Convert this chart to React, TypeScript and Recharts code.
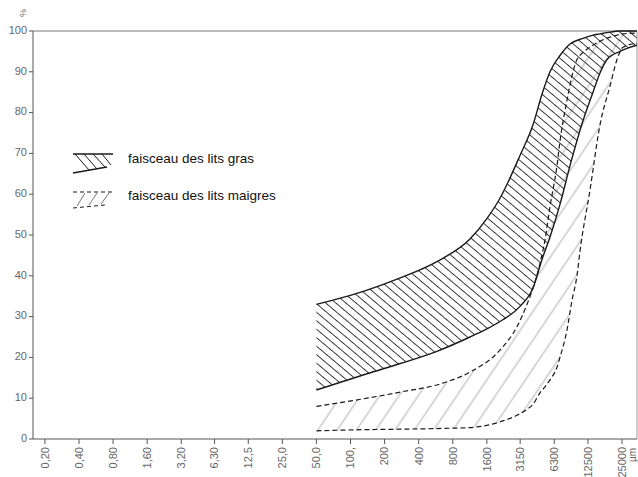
import {
  ComposedChart,
  Area,
  Line,
  XAxis,
  YAxis,
  ReferenceLine,
  Legend,
} from 'recharts'

// Sieve openings (µm) on the x axis, with the labels as printed
const sieveSizes = [0.2, 0.4, 0.8, 1.6, 3.2, 6.3, 12.5, 25, 50, 100, 200, 400, 800, 1600, 3150, 6300, 12500, 25000]
const sieveLabels = ['0,20', '0,40', '0,80', '1,60', '3,20', '6,30', '12,5', '25,0', '50,0', '100,', '200', '400', '800', '1600', '3150', '6300', '12500', '25000']
const percentTicks = [0, 10, 20, 30, 40, 50, 60, 70, 80, 90, 100]

// faisceau des lits gras: grain size (µm) with lower / upper envelope (% passing)
const grasSizes = [50, 140, 275, 580, 1135, 1600, 2090, 3140, 4090, 4910, 5780, 7080, 8680, 11300, 13850, 15970, 18420, 23980, 33900]
const grasLow = [12, 16, 18.5, 21.5, 25, 27, 28.8, 32.5, 37, 44, 49.5, 57.5, 67, 78, 85, 89.7, 93, 95, 96.5]
const grasHigh = [33, 36.5, 39.5, 43.5, 49, 54, 59, 69.5, 77, 84.5, 90, 94, 96.8, 98.2, 99, 99.3, 99.6, 100, 100]

// faisceau des lits maigres
const maigreSizes = [50, 140, 275, 655, 1135, 2090, 2950, 3620, 4090, 4710, 5220, 5780, 6660, 7080, 8160, 9040, 10000, 10630, 13030, 15970, 19580, 22580, 25500, 33900]
const maigreLow = [2, 2.3, 2.4, 2.6, 2.8, 4.2, 5.8, 7.3, 8.5, 11.3, 12.8, 14.5, 17.6, 20, 26.7, 34, 40, 46, 61, 77, 86.5, 93, 96, 97]
const maigreHigh = [8, 10, 11.5, 13.7, 16.4, 21.8, 27.5, 33, 37, 43, 48.8, 57, 67, 73, 83, 89, 93, 94, 96, 97.5, 98.5, 99, 99.3, 99.5]

const grasBand = grasSizes.map((um, i) => ({ um, low: grasLow[i], high: grasHigh[i], range: [grasLow[i], grasHigh[i]] }))
const maigreBand = maigreSizes.map((um, i) => ({ um, low: maigreLow[i], high: maigreHigh[i], range: [maigreLow[i], maigreHigh[i]] }))

const INK = '#1a1a1a'
const AXIS = '#555'
const LABEL = '#666'

function SieveTick({ x, y, payload }: any) {
  const i = sieveSizes.indexOf(payload.value)
  return (
    <g transform={`translate(${x},${y})`}>
      <text transform="rotate(-90)" x={-1} y={0} dy="0.35em" textAnchor="end" fontSize={11} fill={LABEL}>
        {sieveLabels[i]}
      </text>
    </g>
  )
}

function PercentTick({ x, y, payload }: any) {
  return (
    <text x={x} y={y - 1} dy="0.35em" textAnchor="end" fontSize={11} fill={LABEL}>
      {payload.value}
    </text>
  )
}

function UnitX({ viewBox }: any) {
  if (!viewBox) return null
  const x = viewBox.x + viewBox.width - 5
  const y = viewBox.y + 9
  return (
    <text transform={`translate(${x},${y}) rotate(-90)`} textAnchor="end" dy="0.35em" fontSize={10} fill={LABEL}>
      µm
    </text>
  )
}

function UnitY({ viewBox }: any) {
  if (!viewBox) return null
  const x = viewBox.x + viewBox.width - 10
  const y = viewBox.y - 18
  return (
    <text transform={`translate(${x},${y}) rotate(-90)`} textAnchor="middle" dy="0.35em" fontSize={9} fill={LABEL}>
      %
    </text>
  )
}

function BundleLegend() {
  return (
    <svg width={260} height={64} style={{ overflow: 'visible' }}>
      {/* gras symbol */}
      <line x1={5} y1={4} x2={45} y2={4} stroke={INK} strokeWidth={1.3} />
      <line x1={5} y1={23} x2={39} y2={17} stroke={INK} strokeWidth={1.3} />
      <line x1={7} y1={4} x2={21} y2={20} stroke={INK} strokeWidth={1} />
      <line x1={16} y1={4} x2={29} y2={19} stroke={INK} strokeWidth={1} />
      <line x1={25} y1={4} x2={37} y2={17} stroke={INK} strokeWidth={1} />
      <line x1={34} y1={4} x2={43} y2={15} stroke={INK} strokeWidth={1} />
      <text x={60} y={8} dy="0.35em" fontSize={13.5} fill="#111">faisceau des lits gras</text>
      {/* maigre symbol */}
      <line x1={5} y1={42} x2={47} y2={42} stroke={INK} strokeWidth={1} strokeDasharray="4 3" />
      <line x1={5} y1={58} x2={37} y2={55} stroke={INK} strokeWidth={1} strokeDasharray="4 3" />
      <line x1={9} y1={56} x2={17} y2={43} stroke="#777" strokeWidth={1} />
      <line x1={21} y1={55} x2={29} y2={43} stroke="#777" strokeWidth={1} />
      <line x1={33} y1={54} x2={41} y2={43} stroke="#777" strokeWidth={1} />
      <text x={60} y={45} dy="0.35em" fontSize={13.5} fill="#111">faisceau des lits maigres</text>
    </svg>
  )
}

export default function App() {
  return (
    <div
      style={{
        position: 'absolute',
        left: 0,
        top: 0,
        background: '#fff',
        fontFamily: '"Liberation Sans", Arial, sans-serif',
      }}
    >
      <ComposedChart width={638} height={477} margin={{ top: 31, right: 1, bottom: 0, left: 0 }}>
        <defs>
          <pattern id="hatchGras" width="6.5" height="6.5" patternUnits="userSpaceOnUse" patternTransform="rotate(40)">
            <line x1="0" y1="3.25" x2="6.5" y2="3.25" stroke="#2a2a2a" strokeWidth="0.9" />
          </pattern>
          <pattern id="hatchMaigre" width="16" height="16" patternUnits="userSpaceOnUse" patternTransform="rotate(-56)">
            <line x1="0" y1="8" x2="16" y2="8" stroke="#b0b0b0" strokeWidth="1" />
          </pattern>
        </defs>
        <XAxis
          dataKey="um"
          type="number"
          scale="log"
          domain={[0.157, 33900]}
          allowDataOverflow
          ticks={sieveSizes}
          interval={0}
          height={38}
          tick={<SieveTick />}
          tickSize={5}
          tickMargin={2}
          axisLine={{ stroke: AXIS }}
          tickLine={{ stroke: AXIS }}
          label={<UnitX />}
        />
        <YAxis
          type="number"
          domain={[0, 100]}
          ticks={percentTicks}
          interval={0}
          width={33}
          tickSize={4}
          tickMargin={2}
          tick={<PercentTick />}
          axisLine={{ stroke: AXIS }}
          tickLine={{ stroke: AXIS }}
          label={<UnitY />}
        />
        <ReferenceLine y={100} stroke="#777" />
        <ReferenceLine x={33900} stroke="#999" />
        <Legend
          layout="horizontal"
          verticalAlign="middle"
          align="center"
          content={() => <BundleLegend />}
          wrapperStyle={{ left: 68, top: 150, width: 260 }}
        />
        <Area
          data={maigreBand}
          dataKey="range"
          type="monotone"
          stroke="none"
          fill="url(#hatchMaigre)"
          fillOpacity={1}
          isAnimationActive={false}
        />
        <Area
          data={grasBand}
          dataKey="range"
          type="monotone"
          stroke="none"
          fill="url(#hatchGras)"
          fillOpacity={1}
          isAnimationActive={false}
        />
        <Line data={maigreBand} dataKey="low" type="monotone" stroke={INK} strokeWidth={1.2} strokeDasharray="5 3" dot={false} isAnimationActive={false} />
        <Line data={maigreBand} dataKey="high" type="monotone" stroke={INK} strokeWidth={1.2} strokeDasharray="5 3" dot={false} isAnimationActive={false} />
        <Line data={grasBand} dataKey="low" type="monotone" stroke={INK} strokeWidth={1.4} dot={false} isAnimationActive={false} />
        <Line data={grasBand} dataKey="high" type="monotone" stroke={INK} strokeWidth={1.4} dot={false} isAnimationActive={false} />
      </ComposedChart>
    </div>
  )
}
